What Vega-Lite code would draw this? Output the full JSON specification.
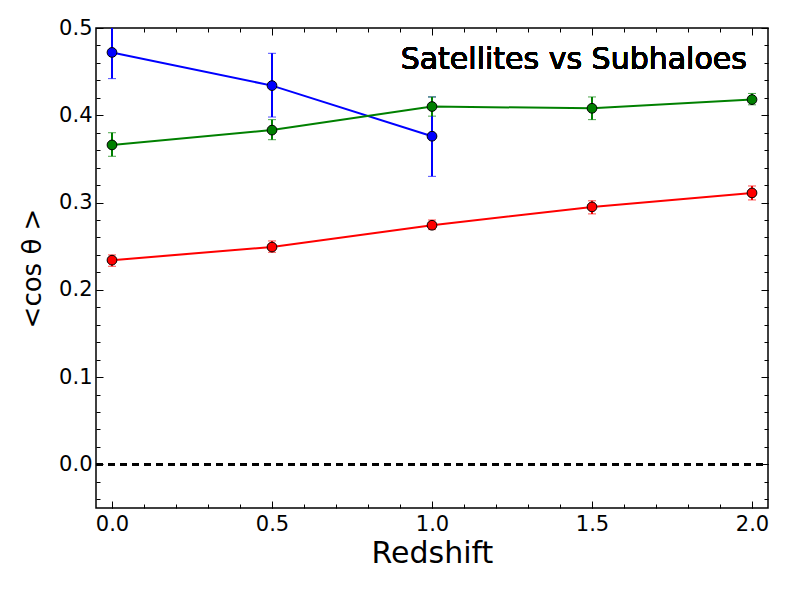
{
  "$schema": "https://vega.github.io/schema/vega-lite/v6.json",
  "width": 672,
  "height": 480,
  "autosize": {"type": "none"},
  "padding": {"left": 96, "top": 28, "right": 21, "bottom": 84},
  "background": "white",
  "config": {
    "view": {"stroke": "#000", "strokeWidth": 1.5},
    "axis": {
      "domain": false,
      "grid": false,
      "labelFont": "DejaVu Sans",
      "labelFontSize": 21,
      "labelColor": "#000",
      "tickColor": "#000",
      "tickWidth": 1,
      "titleFont": "DejaVu Sans",
      "titleColor": "#000",
      "titleFontWeight": "normal"
    }
  },
  "data": {
    "values": [
      {"series": "blue", "z": 0.0, "mean": 0.472, "lo": 0.442, "hi": 0.503},
      {"series": "blue", "z": 0.5, "mean": 0.434, "lo": 0.398, "hi": 0.471},
      {"series": "blue", "z": 1.0, "mean": 0.376, "lo": 0.330, "hi": 0.421},
      {"series": "green", "z": 0.0, "mean": 0.366, "lo": 0.353, "hi": 0.380},
      {"series": "green", "z": 0.5, "mean": 0.383, "lo": 0.372, "hi": 0.395},
      {"series": "green", "z": 1.0, "mean": 0.410, "lo": 0.399, "hi": 0.421},
      {"series": "green", "z": 1.5, "mean": 0.408, "lo": 0.395, "hi": 0.421},
      {"series": "green", "z": 2.0, "mean": 0.418, "lo": 0.412, "hi": 0.425},
      {"series": "red", "z": 0.0, "mean": 0.234, "lo": 0.227, "hi": 0.240},
      {"series": "red", "z": 0.5, "mean": 0.249, "lo": 0.243, "hi": 0.256},
      {"series": "red", "z": 1.0, "mean": 0.274, "lo": 0.269, "hi": 0.280},
      {"series": "red", "z": 1.5, "mean": 0.295, "lo": 0.287, "hi": 0.302},
      {"series": "red", "z": 2.0, "mean": 0.311, "lo": 0.303, "hi": 0.319}
    ]
  },
  "resolve": {"axis": {"x": "independent", "y": "independent"}},
  "layer": [
    {
      "mark": {"type": "errorbar", "ticks": {"size": 8, "thickness": 1}, "thickness": 2, "clip": true},
      "encoding": {
        "x": {
          "field": "z", "type": "quantitative",
          "scale": {"domain": [-0.05, 2.05], "nice": false, "zero": false},
          "axis": {"orient": "bottom", "values": [0, 0.5, 1, 1.5, 2], "format": ".1f", "ticks": false, "labelPadding": 5, "title": "Redshift", "titleFontSize": 30, "titlePadding": 4}
        },
        "y": {
          "field": "lo", "type": "quantitative",
          "scale": {"domain": [-0.05, 0.5], "nice": false, "zero": false},
          "axis": {"orient": "left", "values": [0, 0.1, 0.2, 0.3, 0.4, 0.5], "format": ".1f", "ticks": false, "labelPadding": 4, "title": "<cos θ >", "titleFontSize": 26, "titlePadding": 13}
        },
        "y2": {"field": "hi"},
        "color": {"field": "series", "type": "nominal", "scale": {"domain": ["blue", "green", "red"], "range": ["#0000ff", "#008000", "#ff0000"]}, "legend": null}
      }
    },
    {
      "mark": {"type": "line", "strokeWidth": 2, "clip": true},
      "encoding": {
        "x": {
          "field": "z", "type": "quantitative",
          "scale": {"domain": [-0.05, 2.05], "nice": false, "zero": false},
          "axis": {"orient": "bottom", "values": [0, 0.5, 1, 1.5, 2], "labels": false, "tickSize": -7, "title": null}
        },
        "y": {
          "field": "mean", "type": "quantitative",
          "scale": {"domain": [-0.05, 0.5], "nice": false, "zero": false},
          "axis": {"orient": "left", "values": [0, 0.1, 0.2, 0.3, 0.4, 0.5], "labels": false, "tickSize": -7, "title": null}
        },
        "color": {"field": "series", "type": "nominal", "scale": {"domain": ["blue", "green", "red"], "range": ["#0000ff", "#008000", "#ff0000"]}, "legend": null}
      }
    },
    {
      "mark": {"type": "point", "shape": "circle", "filled": true, "size": 95, "stroke": "#000", "strokeWidth": 1, "opacity": 1, "clip": true},
      "encoding": {
        "x": {
          "field": "z", "type": "quantitative",
          "scale": {"domain": [-0.05, 2.05], "nice": false, "zero": false},
          "axis": {"orient": "bottom", "values": [0, 0.1, 0.2, 0.3, 0.4, 0.5, 0.6, 0.7, 0.8, 0.9, 1, 1.1, 1.2, 1.3, 1.4, 1.5, 1.6, 1.7, 1.8, 1.9, 2], "labels": false, "tickSize": -4, "title": null}
        },
        "y": {
          "field": "mean", "type": "quantitative",
          "scale": {"domain": [-0.05, 0.5], "nice": false, "zero": false},
          "axis": {"orient": "left", "values": [-0.04, -0.02, 0, 0.02, 0.04, 0.06, 0.08, 0.1, 0.12, 0.14, 0.16, 0.18, 0.2, 0.22, 0.24, 0.26, 0.28, 0.3, 0.32, 0.34, 0.36, 0.38, 0.4, 0.42, 0.44, 0.46, 0.48, 0.5], "labels": false, "tickSize": -4, "title": null}
        },
        "fill": {"field": "series", "type": "nominal", "scale": {"domain": ["blue", "green", "red"], "range": ["#0000ff", "#008000", "#ff0000"]}, "legend": null}
      }
    },
    {
      "mark": {"type": "rule", "color": "#000", "strokeWidth": 2, "strokeDash": [7, 5]},
      "encoding": {
        "x": {
          "datum": -0.05, "type": "quantitative",
          "scale": {"domain": [-0.05, 2.05], "nice": false, "zero": false},
          "axis": {"orient": "top", "values": [0, 0.5, 1, 1.5, 2], "labels": false, "tickSize": -7, "title": null}
        },
        "x2": {"datum": 2.05},
        "y": {
          "datum": 0, "type": "quantitative",
          "scale": {"domain": [-0.05, 0.5], "nice": false, "zero": false},
          "axis": {"orient": "right", "values": [0, 0.1, 0.2, 0.3, 0.4, 0.5], "labels": false, "tickSize": -7, "title": null}
        }
      }
    },
    {
      "mark": {"type": "text", "text": "Satellites vs Subhaloes", "align": "right", "baseline": "alphabetic", "font": "DejaVu Sans", "fontSize": 30, "fontWeight": "normal", "fill": "#000", "stroke": null},
      "encoding": {
        "x": {
          "datum": 1.984, "type": "quantitative",
          "scale": {"domain": [-0.05, 2.05], "nice": false, "zero": false},
          "axis": {"orient": "top", "values": [0, 0.1, 0.2, 0.3, 0.4, 0.5, 0.6, 0.7, 0.8, 0.9, 1, 1.1, 1.2, 1.3, 1.4, 1.5, 1.6, 1.7, 1.8, 1.9, 2], "labels": false, "tickSize": -4, "title": null}
        },
        "y": {
          "datum": 0.453, "type": "quantitative",
          "scale": {"domain": [-0.05, 0.5], "nice": false, "zero": false},
          "axis": {"orient": "right", "values": [-0.04, -0.02, 0, 0.02, 0.04, 0.06, 0.08, 0.1, 0.12, 0.14, 0.16, 0.18, 0.2, 0.22, 0.24, 0.26, 0.28, 0.3, 0.32, 0.34, 0.36, 0.38, 0.4, 0.42, 0.44, 0.46, 0.48, 0.5], "labels": false, "tickSize": -4, "title": null}
        }
      }
    }
  ]
}
